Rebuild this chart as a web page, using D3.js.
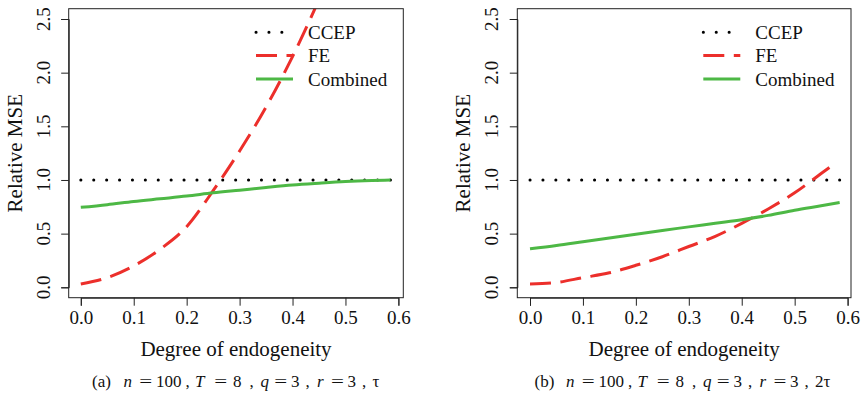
<!DOCTYPE html>
<html>
<head>
<meta charset="utf-8">
<script src="https://cdn.jsdelivr.net/npm/d3@7/dist/d3.min.js"></script>
<style>
  html, body { margin: 0; padding: 0; background: #fff; }
  svg { display: block; }
  svg text { font-family: "Liberation Serif", serif !important; fill: #111; }
</style>
</head>
<body>
<svg id="chart" width="865" height="396"></svg>
<script>
// ---------- data ----------
const xGrid = [0, 0.05, 0.10, 0.15, 0.20, 0.25, 0.30, 0.35, 0.40, 0.45, 0.50, 0.55, 0.585];

// panel (a)
const ccepA = [1, 1, 1, 1, 1, 1, 1, 1, 1, 1, 1, 1, 1];
const feA   = [0.03, 0.09, 0.20, 0.355, 0.565, 0.90, 1.27, 1.68, 2.15, 2.68, 3.25, 3.85, 4.30];
const combA = [0.745, 0.77, 0.80, 0.825, 0.85, 0.88, 0.905, 0.93, 0.953, 0.97, 0.985, 0.995, 1.0];

// panel (b)
const xGridFEb = [0, 0.05, 0.10, 0.15, 0.20, 0.25, 0.30, 0.35, 0.40, 0.45, 0.50, 0.55, 0.575];
const ccepB = [1, 1, 1, 1, 1, 1, 1, 1, 1, 1, 1, 1, 1];
const feB   = [0.03, 0.045, 0.09, 0.135, 0.205, 0.285, 0.38, 0.475, 0.595, 0.73, 0.88, 1.06, 1.15];
const combB = [0.36, 0.39, 0.425, 0.46, 0.495, 0.53, 0.563, 0.597, 0.63, 0.67, 0.718, 0.76, 0.79];

const xTicks = [0.0, 0.1, 0.2, 0.3, 0.4, 0.5, 0.6];
const yTicks = [0.0, 0.5, 1.0, 1.5, 2.0, 2.5];
const seriesNames = ["CCEP", "FE", "Combined"];
const xLabel = "Degree of endogeneity";
const yLabel = "Relative MSE";
// caption pieces: [text, italic]
const captionA = [["(a)", false], ["n", true], ["=", false], ["100", false], [",", false], ["T", true], ["=", false], ["8", false], [",", false], ["q", true], ["=", false], ["3", false], [",", false], ["r", true], ["=", false], ["3", false], [",", false], ["τ", false]];
const captionB = [["(b)", false], ["n", true], ["=", false], ["100", false], [",", false], ["T", true], ["=", false], ["8", false], [",", false], ["q", true], ["=", false], ["3", false], [",", false], ["r", true], ["=", false], ["3", false], [",", false], ["2τ", false]];

// ---------- styles ----------
const FONT = "Liberation Serif, serif";
const RED = "#EC2F2B", GREEN = "#4DB845";
const styles = {
  CCEP: { color: "#000", dash: "0.1 12.8", cap: "round", width: 3 },
  FE: { color: RED, dash: "21 9.5", cap: "butt", width: 3 },
  Combined: { color: GREEN, dash: null, cap: "butt", width: 3 }
};
// horizontal offsets of caption pieces (layout)
const capOffsets = [0, 31.5, 47.3, 64, 93.5, 103, 122.3, 141, 157.5, 168.5, 182.3, 199, 213.5, 225, 239, 255.6, 270, 280.6];

const svg = d3.select("#chart");

function drawPanel(cfg) {
  const { box, xOrigin, series, caption, legendX, capStart, id } = cfg;
  const g = svg.append("g").attr("font-family", FONT);
  const x = d3.scaleLinear().domain([0, 0.6]).range([xOrigin, xOrigin + 317.6]);
  const y = d3.scaleLinear().domain([0, 2.5]).range([287.3, 19]);

  g.append("clipPath").attr("id", "clip" + id)
    .append("rect").attr("x", box.l).attr("y", box.t)
    .attr("width", box.r - box.l).attr("height", box.b - box.t);

  // lines
  const line = d3.line().x(d => x(d[0])).y(d => y(d[1])).curve(d3.curveMonotoneX);
  const plot = g.append("g").attr("clip-path", `url(#clip${id})`);
  series.forEach(s => {
    const st = styles[s.name];
    const pts = s.xs.map((v, i) => [v, s.ys[i]]);
    plot.append("path").attr("d", line(pts))
      .attr("fill", "none").attr("stroke", st.color)
      .attr("stroke-width", st.width).attr("stroke-linecap", st.cap)
      .attr("stroke-dasharray", st.dash);
  });

  // box
  g.append("rect").attr("x", box.l).attr("y", box.t)
    .attr("width", box.r - box.l).attr("height", box.b - box.t)
    .attr("fill", "none").attr("stroke", "#222").attr("stroke-width", 1);

  // x axis
  const xa = g.append("g").attr("transform", `translate(0,${box.b})`)
    .call(d3.axisBottom(x).tickValues(xTicks).tickFormat(d3.format(".1f")).tickSize(8).tickPadding(5));
  xa.attr("font-family", FONT);
  xa.select(".domain").attr("stroke", "#222");
  xa.selectAll(".tick line").attr("stroke", "#222");
  xa.selectAll("text").attr("font-size", 19).attr("font-family", FONT).attr("fill", "#111");

  // y axis (rotated labels R-style)
  const ya = g.append("g").attr("transform", `translate(${box.l},0)`)
    .call(d3.axisLeft(y).tickValues(yTicks).tickSize(7.5).tickFormat(""));
  ya.select(".domain").attr("stroke", "#222");
  ya.selectAll(".tick line").attr("stroke", "#222");
  yTicks.forEach(t => {
    g.append("text").attr("transform", `translate(${box.l - 19},${y(t)}) rotate(-90)`)
      .attr("text-anchor", "middle").attr("font-size", 19).attr("font-family", FONT)
      .text(d3.format(".1f")(t));
  });

  // axis titles
  const cx = (box.l + box.r) / 2;
  g.append("text").attr("x", cx).attr("y", 356).attr("text-anchor", "middle")
    .attr("font-size", 21).attr("font-family", FONT).text(xLabel);
  g.append("text").attr("transform", `translate(${box.l - 47},${(box.t + box.b) / 2}) rotate(-90)`)
    .attr("text-anchor", "middle").attr("font-size", 21).attr("font-family", FONT).text(yLabel);

  // caption
  caption.forEach(([t, it], i) => {
    const sx = t === "=" ? 1.35 : 1;
    g.append("text")
      .attr("transform", `translate(${capStart + capOffsets[i]},387) scale(${sx},1)`)
      .attr("font-size", 17).attr("font-family", FONT)
      .attr("font-style", it ? "italic" : "normal").text(t);
  });

  // legend
  const rows = [32.3, 55.5, 79];
  seriesNames.forEach((name, i) => {
    const st = styles[name];
    g.append("line").attr("x1", legendX).attr("x2", legendX + (name === "CCEP" ? 27 : 37))
      .attr("y1", rows[i]).attr("y2", rows[i])
      .attr("stroke", st.color).attr("stroke-width", st.width)
      .attr("stroke-linecap", st.cap).attr("stroke-dasharray", st.dash);
    g.append("text").attr("x", legendX + 52).attr("y", rows[i] + 6.5)
      .attr("font-size", 19).attr("font-family", FONT).text(name);
  });
}

drawPanel({
  id: "a",
  box: { l: 68.7, r: 403.3, t: 8.7, b: 297.7 },
  xOrigin: 80.8,
  series: [
    { name: "CCEP", xs: xGrid, ys: ccepA },
    { name: "FE", xs: xGrid, ys: feA },
    { name: "Combined", xs: xGrid, ys: combA }
  ],
  caption: captionA,
  capStart: 92,
  legendX: 256
});

drawPanel({
  id: "b",
  box: { l: 517.3, r: 851, t: 8.7, b: 297.7 },
  xOrigin: 530,
  series: [
    { name: "CCEP", xs: xGrid, ys: ccepB },
    { name: "FE", xs: xGridFEb, ys: feB },
    { name: "Combined", xs: xGrid, ys: combB }
  ],
  caption: captionB,
  capStart: 534.5,
  legendX: 703.3
});
</script>
</body>
</html>
